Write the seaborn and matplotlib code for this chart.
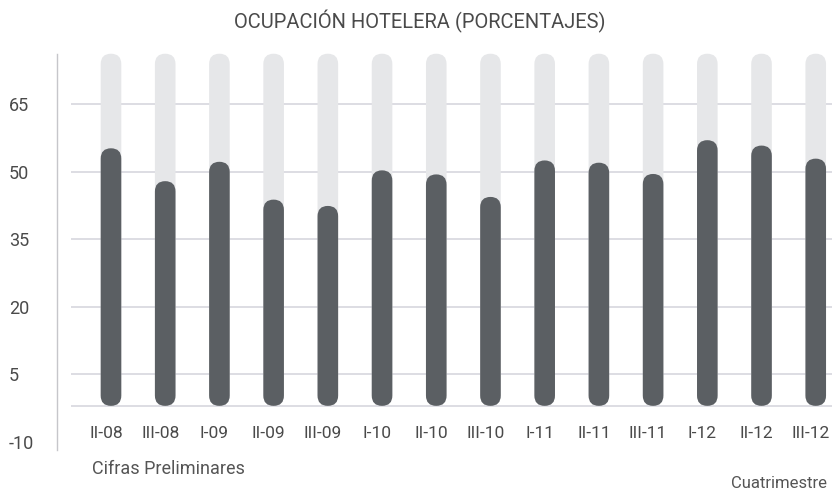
import numpy as np
import pandas as pd
import matplotlib.pyplot as plt
import matplotlib.transforms as mtransforms
import seaborn as sns
from matplotlib.patches import FancyBboxPatch

cuatrimestres = ['II-08', 'III-08', 'I-09', 'II-09', 'III-09', 'I-10', 'II-10',
                 'III-10', 'I-11', 'II-11', 'III-11', 'I-12', 'II-12', 'III-12']
ocupacion = [55.2, 47.9, 52.2, 43.8, 42.4, 50.3, 49.4,
             44.4, 52.5, 52.0, 49.5, 57.0, 55.8, 52.9]
marcas_y = [-10, 5, 20, 35, 50, 65]

df = pd.DataFrame({'cuatrimestre': cuatrimestres, 'ocupacion': ocupacion})

sns.set_style('white')
plt.rcParams['font.family'] = ['Roboto', 'DejaVu Sans']
plt.rcParams['axes.unicode_minus'] = False

OSCURO = '#5b5f63'
CLARO = '#e6e7e9'
REJILLA = '#d3d3db'
TEXTO = '#4a4a4a'
BASE = -2      # linea base donde arrancan las barras
TOPE = 76.2    # altura del carril gris

fig = plt.figure(figsize=(8.32, 4.91), dpi=100)
ax = fig.add_axes([0.0689, 0.0835, 0.9311, 0.8071])

sns.barplot(data=df, x='cuatrimestre', y='ocupacion', color=OSCURO,
            saturation=1, width=0.38, ax=ax)

ax.set_xlim(-0.99, 13.3)
ax.set_ylim(-11.8, TOPE)

# relacion pixel x / pixel y para que las puntas queden redondas
(x0p, y0p), (x1p, y1p) = ax.transData.transform([(0, 0), (1, 1)])
aspecto = (x1p - x0p) / (y1p - y0p)

for r in list(ax.patches):
    x0, w, h = r.get_x(), r.get_width(), r.get_height()
    r.remove()
    for y_ini, y_fin, col, z in [(BASE, TOPE, CLARO, 2), (BASE, h, OSCURO, 3)]:
        ax.add_patch(FancyBboxPatch(
            (x0, y_ini), w, y_fin - y_ini,
            boxstyle=f'round,pad=0,rounding_size={w / 2}',
            mutation_aspect=aspecto, fc=col, ec='none', zorder=z, clip_on=False))

# rejilla horizontal + linea base
ax.hlines(marcas_y[1:] + [BASE], -0.74, 13.3, color=REJILLA, lw=1.1, zorder=1)

ax.set_yticks(marcas_y)
ax.tick_params(axis='y', length=0, pad=35, labelsize=13, labelcolor=TEXTO)
for lbl in ax.get_yticklabels():
    lbl.set_horizontalalignment('left')
ax.tick_params(axis='x', length=0, pad=-17, labelsize=12.5, labelcolor=TEXTO)
desplaza = mtransforms.ScaledTranslation(-5 / 100, 0, fig.dpi_scale_trans)
for lbl in ax.get_xticklabels():
    lbl.set_transform(lbl.get_transform() + desplaza)
ax.set_xlabel('')
ax.set_ylabel('')

sns.despine(ax=ax, bottom=True)
ax.spines['left'].set_color('#c6c6ca')
ax.spines['left'].set_linewidth(1)

fig.text(0.504, 0.957, 'OCUPACIÓN HOTELERA (PORCENTAJES)', ha='center', va='center',
         fontsize=14.5, color=TEXTO)
fig.text(92 / 832, 1 - 469 / 491, 'Cifras Preliminares', ha='left', va='center',
         fontsize=13, color='#555555')
fig.text(827 / 832, 1 - 484 / 491, 'Cuatrimestre', ha='right', va='center',
         fontsize=12, color='#555555')

fig.savefig('out.png', dpi=100)
